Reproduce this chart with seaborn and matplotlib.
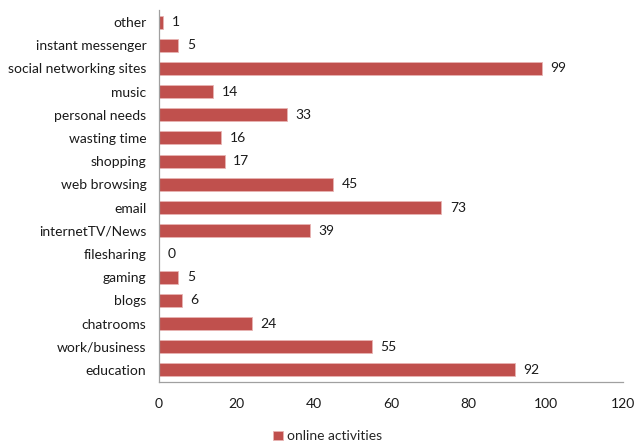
import matplotlib
matplotlib.use("Agg")
import matplotlib.pyplot as plt
import seaborn as sns
import pandas as pd

categories = ["other", "instant messenger", "social networking sites", "music",
              "personal needs", "wasting time", "shopping", "web browsing",
              "email", "internetTV/News", "filesharing", "gaming", "blogs",
              "chatrooms", "work/business", "education"]
values = [1, 5, 99, 14, 33, 16, 17, 45, 73, 39, 0, 5, 6, 24, 55, 92]
series_name = "online activities"
x_ticks = [0, 20, 40, 60, 80, 100, 120]

sns.set_style("white")
plt.rcParams["font.family"] = ["Lato", "DejaVu Sans"]

df = pd.DataFrame({"activity": categories, "count": values})

fig = plt.figure(figsize=(6.36, 4.43), dpi=100)
ax = fig.add_axes([0.25, 0.1388, 0.7296, 0.8377])

bar_color = "#C0504D"
sns.barplot(data=df, y="activity", x="count", orient="h", color=bar_color,
            saturation=1, width=0.56, edgecolor="#E8B4B3", linewidth=0.6,
            ax=ax, label=series_name)

fs = 10
for i, v in enumerate(values):
    ax.text(v + 2.2, i, str(v), va="center", ha="left", fontsize=fs,
            color="#1a1a1a")

ax.set_xlim(0, 120)
ax.set_xticks(x_ticks)
ax.set_xticklabels([str(t) for t in x_ticks], fontsize=fs, color="#1a1a1a")
ax.tick_params(axis="y", labelsize=fs, labelcolor="#1a1a1a", length=0, pad=9)
ax.tick_params(axis="x", length=0, pad=12)
ax.set_xlabel("")
ax.set_ylabel("")

for side in ["top", "right"]:
    ax.spines[side].set_visible(False)
for side in ["left", "bottom"]:
    ax.spines[side].set_color("#A0A0A0")
    ax.spines[side].set_linewidth(0.9)

ax.legend(loc="lower center", bbox_to_anchor=(0.364, -0.19),
          frameon=False, fontsize=fs, handlelength=0.7, handleheight=0.7,
          handletextpad=0.3, borderpad=0.2)

fig.savefig("out.png", dpi=100)
